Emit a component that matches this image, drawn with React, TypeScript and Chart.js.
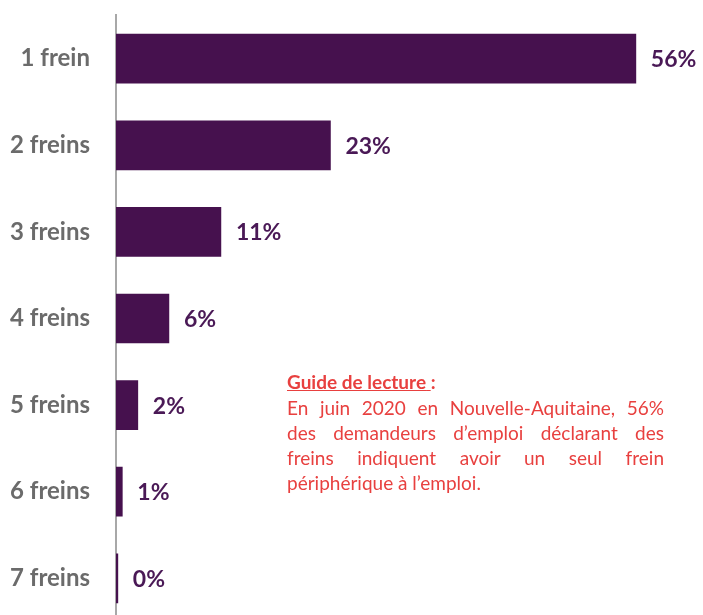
import React, { useEffect, useRef } from "react";
import { Chart, registerables } from "chart.js";

Chart.register(...registerables);

const categories = ["1 frein", "2 freins", "3 freins", "4 freins", "5 freins", "6 freins", "7 freins"];
const values = [56, 23.1, 11.3, 5.7, 2.35, 0.68, 0.2];
const valueLabels = ["56%", "23%", "11%", "6%", "2%", "1%", "0%"];

const BAR_COLOR = "#46114e";
const VALUE_COLOR = "#4a1956";
const CAT_COLOR = "#6b6b6b";
const NOTE_COLOR = "#e8403f";

const noteTitle = "Guide de lecture";
const noteLines = [
  "En juin 2020 en Nouvelle-Aquitaine, 56%",
  "des demandeurs d\u2019emploi déclarant des",
  "freins indiquent avoir un seul frein",
  "périphérique à l\u2019emploi.",
];

const CANVAS_TOP = -25;
const CANVAS_H = 687;

const valueLabelPlugin = {
  id: "valueLabels",
  afterDatasetsDraw(chart: any) {
    const ctx = chart.ctx;
    const meta = chart.getDatasetMeta(0);
    ctx.save();
    ctx.font = "bold 23px Lato";
    ctx.fillStyle = VALUE_COLOR;
    ctx.textAlign = "left";
    ctx.textBaseline = "middle";
    meta.data.forEach((bar: any, i: number) => {
      ctx.fillText(valueLabels[i], bar.x + 15, bar.y + 1);
    });
    ctx.restore();
  },
};

export default function App() {
  const ref = useRef<HTMLCanvasElement>(null);
  useEffect(() => {
    if (!ref.current) return;
    const chart = new Chart(ref.current, {
      type: "bar",
      data: {
        labels: categories,
        datasets: [
          {
            data: values,
            backgroundColor: BAR_COLOR,
            barThickness: 49,
            categoryPercentage: 1,
          },
        ],
      },
      options: {
        indexAxis: "y",
        animation: false,
        responsive: false,
        maintainAspectRatio: false,
        layout: { padding: { top: 13.5, bottom: 8.5, left: 0, right: 30 } },
        plugins: { legend: { display: false }, tooltip: { enabled: false } },
        scales: {
          x: { display: false, min: 0, max: 60 },
          y: {
            grid: { display: false, drawTicks: false },
            border: { display: true, color: "#a8a8a8", width: 2 },
            ticks: {
              color: CAT_COLOR,
              font: { family: "Lato", weight: "bold", size: 24 },
              padding: 26,
            },
            afterFit(scale: any) {
              scale.width = 116;
            },
          },
        },
      },
      plugins: [valueLabelPlugin],
    } as any);
    return () => chart.destroy();
  }, []);

  return (
    <div
      style={{
        position: "fixed",
        left: 0,
        top: 0,
        width: 703,
        height: 615,
        overflow: "hidden",
        background: "#ffffff",
      }}
    >
      <canvas
        ref={ref}
        width={703}
        height={CANVAS_H}
        style={{ position: "absolute", left: 0, top: CANVAS_TOP, display: "block", width: 703, height: CANVAS_H }}
      />
      <div
        style={{
          position: "absolute",
          left: 287,
          top: 368,
          width: 377,
          fontFamily: "Lato",
          color: NOTE_COLOR,
          fontSize: 19,
        }}
      >
        <div style={{ fontWeight: "bold", height: 27, lineHeight: "27px" }}>
          <span style={{ textDecoration: "underline" }}>{noteTitle} </span>:
        </div>
        {noteLines.map((l, i) => (
          <div
            key={i}
            style={{
              lineHeight: "25px",
              textAlign: i < noteLines.length - 1 ? "justify" : "left",
              textAlignLast: i < noteLines.length - 1 ? "justify" : "left",
              whiteSpace: "nowrap",
            } as any}
          >
            {l}
          </div>
        ))}
      </div>
    </div>
  );
}
